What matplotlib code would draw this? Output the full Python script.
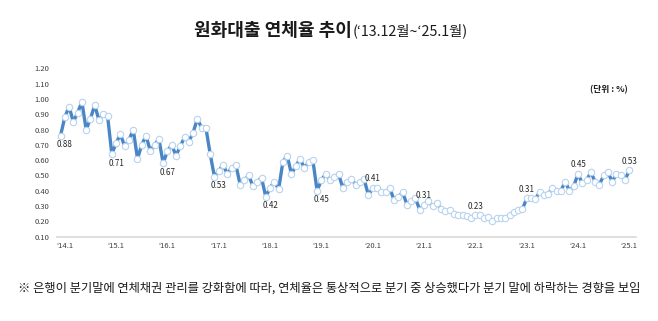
import numpy as np
import matplotlib
matplotlib.use('Agg')
import matplotlib.pyplot as plt

plt.rcParams['font.family'] = ['Noto Sans CJK KR', 'DejaVu Sans']

# monthly won-loan delinquency rate, '13.12 ~ '25.1
rate = [
	0.76,
	0.88, 0.95, 0.85, 0.91, 0.98, 0.80, 0.87, 0.96, 0.86, 0.90, 0.89, 0.64,   # 2014
	0.71, 0.77, 0.69, 0.73, 0.80, 0.61, 0.70, 0.76, 0.66, 0.70, 0.74, 0.58,   # 2015
	0.66, 0.70, 0.63, 0.69, 0.75, 0.72, 0.78, 0.87, 0.81, 0.81, 0.64, 0.49,   # 2016
	0.53, 0.57, 0.51, 0.55, 0.57, 0.44, 0.47, 0.50, 0.43, 0.46, 0.485, 0.36,  # 2017
	0.42, 0.46, 0.41, 0.59, 0.63, 0.51, 0.56, 0.61, 0.55, 0.585, 0.60, 0.40,  # 2018
	0.47, 0.51, 0.47, 0.49, 0.51, 0.42, 0.46, 0.48, 0.44, 0.46, 0.475, 0.37,  # 2019
	0.42, 0.415, 0.39, 0.39, 0.415, 0.34, 0.36, 0.39, 0.31, 0.33, 0.35, 0.275,  # 2020
	0.31, 0.33, 0.30, 0.32, 0.28, 0.265, 0.275, 0.25, 0.245, 0.24, 0.235, 0.22,  # 2021
	0.24, 0.245, 0.225, 0.23, 0.20, 0.22, 0.225, 0.22, 0.24, 0.26, 0.275, 0.28,  # 2022
	0.35, 0.35, 0.345, 0.39, 0.375, 0.38, 0.415, 0.40, 0.40, 0.46, 0.40, 0.43,  # 2023
	0.51, 0.45, 0.47, 0.52, 0.46, 0.44, 0.50, 0.52, 0.46, 0.51, 0.50, 0.47,   # 2024
	0.535,                                                                     # 2025.1
]

year_labels = ["‘14.1", "‘15.1", "‘16.1", "‘17.1", "‘18.1", "‘19.1",
	"‘20.1", "‘21.1", "‘22.1", "‘23.1", "‘24.1", "‘25.1"]
jan_labels = ['0.88', '0.71', '0.67', '0.53', '0.42', '0.45',
	'0.41', '0.31', '0.23', '0.31', '0.45', '0.53']

title_main = '원화대출 연체율 추이'
title_sub = '(‘13.12월~‘25.1월)'
unit_text = '(단위 : %)'
note_text = ('※ 은행이 분기말에 연체채권 관리를 강화함에 따라, 연체율은 통상적으로 '
	'분기 중 상승했다가 분기 말에 하락하는 경향을 보임')

x = np.arange(len(rate))
jan_idx = x[1::12]

fig = plt.figure(figsize=(6.58, 3.21), dpi=100)
ax = fig.add_axes([57/658, 1-236.7/321, (636-57)/658, (236.7-68.3)/321])

ax.plot(x, rate, color='#4a86c5', linewidth=2.4, marker='o', markersize=4.6,
	markerfacecolor='white', markeredgecolor='#b8d3ee', markeredgewidth=0.8,
	zorder=3)
ax.axhline(0.10, color='#dcdcdc', linewidth=1.3, clip_on=False, zorder=1)

ax.set_xlim(-0.82, 134.56)
ax.set_ylim(0.10, 1.20)
for s in ax.spines.values():
	s.set_visible(False)

ax.set_yticks(np.arange(0.10, 1.201, 0.10))
ax.set_yticklabels(['%.2f' % v for v in np.arange(0.10, 1.201, 0.10)])
ax.set_xticks(jan_idx)
ax.set_xticklabels(year_labels)
ax.tick_params(axis='both', length=0, labelsize=5.5, colors='#404040')
ax.tick_params(axis='y', pad=5.5)
ax.tick_params(axis='x', pad=3.5)

# value labels on each January: below the dip for the first six, above after
for k, (i, lab) in enumerate(zip(jan_idx, jan_labels)):
	if k < 6:
		yv = min(rate[i - 1], rate[i])
		off = -9
	else:
		yv = rate[i]
		off = 9
	ax.annotate(lab, (i, yv), xytext=(0, off), textcoords='offset pixels',
		ha='center', va='center', fontsize=5.8, color='#262626', zorder=4)

# title: bold main part followed by the period in normal weight
t1 = fig.text(0.5, 1-30/321, title_main, ha='right', va='center',
	fontsize=13, fontweight='bold', color='#1a1a1a')
t2 = fig.text(0, 1-31/321, title_sub, ha='left', va='center', fontsize=10.3,
	color='#1a1a1a')
fig.canvas.draw()
rend = fig.canvas.get_renderer()
w1 = t1.get_window_extent(renderer=rend).width / fig.bbox.width
w2 = t2.get_window_extent(renderer=rend).width / fig.bbox.width
left = 331/658 - (w1 + w2) / 2
t1.set_x(left + w1)
t2.set_x(left + w1)

fig.text(628/658, 1-90/321, unit_text, ha='right', va='center', fontsize=6.3,
	fontweight='bold', color='#1a1a1a')
fig.text(329/658, 1-288/321, note_text, ha='center', va='center', fontsize=8.85,
	color='#1a1a1a')

fig.savefig('out.png', dpi=100)
